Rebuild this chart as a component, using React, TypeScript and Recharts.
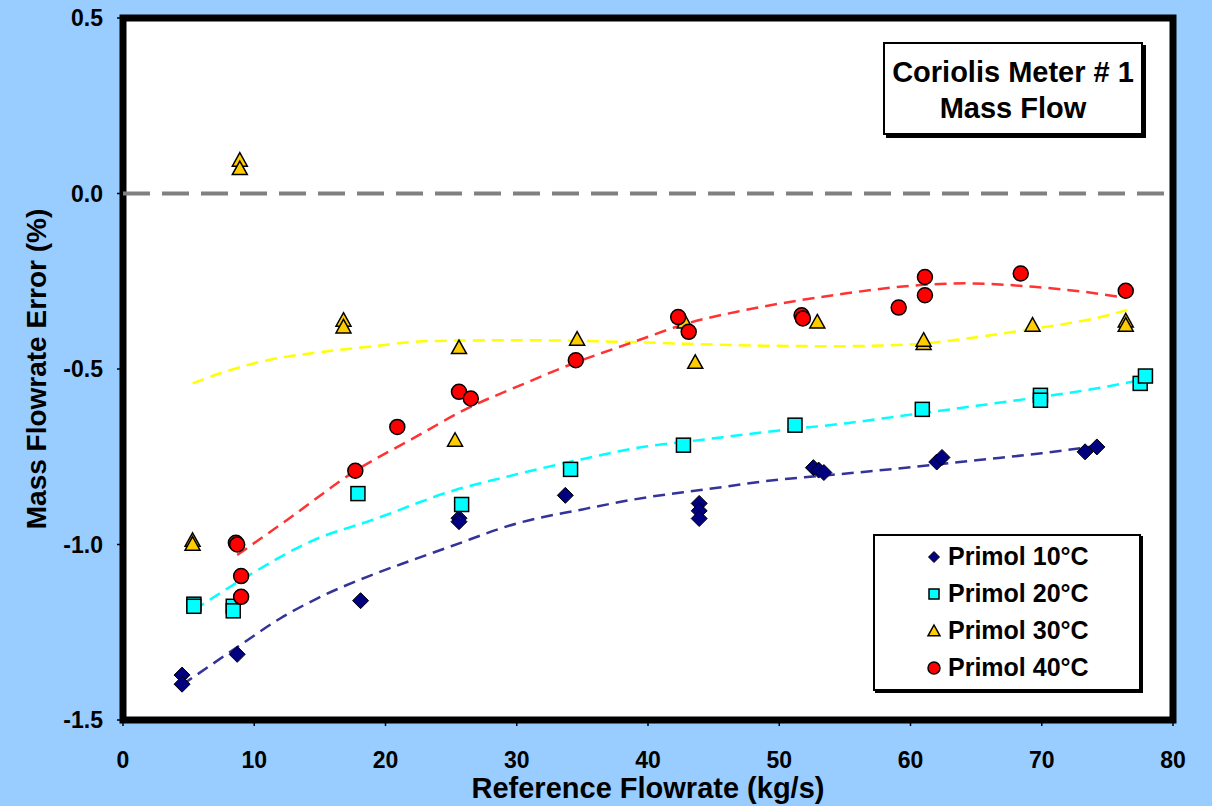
import React from 'react'
import {
  ComposedChart, Line, Scatter, XAxis, YAxis, CartesianGrid,
  ReferenceLine, ReferenceArea, Legend,
} from 'recharts'

// measured points, Primol at four temperatures
const p10X = [4.5, 4.5, 8.7, 18.1, 25.6, 25.6, 33.7, 43.9, 43.9, 43.9, 52.6, 53.0, 53.4, 62.0, 62.4, 73.3, 74.2]
const p10Y = [-1.372, -1.398, -1.313, -1.16, -0.925, -0.935, -0.86, -0.883, -0.904, -0.926, -0.781, -0.788, -0.795, -0.765, -0.752, -0.736, -0.722]

const p20X = [5.4, 5.4, 8.4, 8.4, 17.9, 25.8, 34.1, 42.7, 51.2, 60.9, 69.9, 69.9, 77.5, 77.9]
const p20Y = [-1.17, -1.176, -1.176, -1.189, -0.855, -0.886, -0.786, -0.717, -0.66, -0.615, -0.575, -0.589, -0.541, -0.52]

const p30X = [8.9, 8.9, 5.3, 5.3, 16.8, 16.8, 25.6, 25.3, 34.6, 42.8, 43.6, 52.9, 61.0, 61.0, 69.3, 76.4, 76.4]
const p30Y = [0.095, 0.071, -0.988, -0.999, -0.361, -0.38, -0.439, -0.703, -0.415, -0.366, -0.481, -0.366, -0.427, -0.418, -0.375, -0.363, -0.375]

const p40X = [8.6, 8.7, 9.0, 9.0, 17.7, 20.9, 25.6, 26.5, 34.5, 42.3, 43.1, 51.7, 51.8, 59.1, 61.1, 61.1, 68.4, 76.4]
const p40Y = [-0.995, -1.0, -1.09, -1.149, -0.79, -0.665, -0.565, -0.584, -0.475, -0.352, -0.394, -0.347, -0.356, -0.325, -0.238, -0.29, -0.228, -0.277]

// trend lines
const t10X = [4.5, 8.8, 12, 15, 18.6, 22, 25, 30, 35, 40, 44, 50, 53, 60, 65, 70, 74]
const t10Y = [-1.40, -1.29, -1.21, -1.15, -1.092, -1.045, -1.005, -0.94, -0.90, -0.865, -0.845, -0.815, -0.805, -0.78, -0.76, -0.74, -0.72]

const t20X = [5.4, 9.4, 14.5, 19, 25.2, 30, 34, 40, 42.7, 50, 55, 60, 65, 70, 75, 77.7]
const t20Y = [-1.187, -1.092, -0.988, -0.93, -0.846, -0.80, -0.765, -0.72, -0.708, -0.675, -0.655, -0.63, -0.605, -0.579, -0.55, -0.53]

const t30X = [5.3, 8, 11, 15, 18.6, 23.6, 30, 36.4, 41, 46.5, 54, 60, 64.3, 69.4, 72, 74.5, 76.5]
const t30Y = [-0.541, -0.505, -0.475, -0.452, -0.437, -0.42, -0.418, -0.421, -0.426, -0.432, -0.435, -0.43, -0.413, -0.385, -0.37, -0.352, -0.332]

const t40X = [8.7, 12.5, 17.8, 22, 26.2, 30.3, 34.6, 38.9, 43, 47, 51.6, 55, 60.7, 64.3, 69.4, 73.2, 76.4]
const t40Y = [-1.03, -0.93, -0.788, -0.70, -0.613, -0.546, -0.48, -0.423, -0.37, -0.335, -0.304, -0.285, -0.261, -0.256, -0.266, -0.28, -0.297]

const seriesNames = ['Primol 10°C', 'Primol 20°C', 'Primol 30°C', 'Primol 40°C']
const xTicks = [0, 10, 20, 30, 40, 50, 60, 70, 80]
const yTicks = [-1.5, -1.0, -0.5, 0.0, 0.5]

const FONT = '"Liberation Sans", Arial, Helvetica, sans-serif'

const toPoints = (xs: number[], ys: number[]) => xs.map((x, i) => ({ x, y: ys[i] }))

const diamond = (cx: number, cy: number, r: number) =>
  <path d={`M${cx},${cy - r}L${cx + r},${cy}L${cx},${cy + r}L${cx - r},${cy}Z`} fill="#000080" stroke="#000" strokeWidth={1} />
const square = (cx: number, cy: number, r: number) =>
  <rect x={cx - r} y={cy - r} width={2 * r} height={2 * r} fill="#00FFFF" stroke="#000" strokeWidth={1.5} />
const triangle = (cx: number, cy: number, r: number) =>
  <path d={`M${cx},${cy - r}L${cx + r},${cy + r * 0.8}L${cx - r},${cy + r * 0.8}Z`} fill="#FFCC00" stroke="#000" strokeWidth={1.5} />
const circle = (cx: number, cy: number, r: number) =>
  <circle cx={cx} cy={cy} r={r} fill="#FF0000" stroke="#000" strokeWidth={1.5} />

const markers = [diamond, square, triangle, circle]
const markerSize = [8, 7, 7.5, 7.5]

function MarkerShape(idx: number) {
  return (props: any) => {
    const { cx, cy } = props
    if (cx == null || cy == null) return <g />
    return markers[idx](cx, cy, markerSize[idx])
  }
}

function LegendBox() {
  return (
    <div style={{
      width: 268, height: 157, background: '#fff', border: '2px solid #000',
      boxShadow: '2px 2px 0 #000', fontFamily: FONT, boxSizing: 'border-box',
    }}>
      {seriesNames.map((name, i) => (
        <div key={name} style={{ display: 'flex', alignItems: 'center', height: 37, marginTop: i === 0 ? 2 : 0 }}>
          <svg width={20} height={20} style={{ marginLeft: 49, marginRight: 4 }}>
            {markers[i](10, 10, [5.5, 5, 6, 6][i])}
          </svg>
          <span style={{ fontSize: 25, fontWeight: 'bold', color: '#000' }}>{name}</span>
        </div>
      ))}
    </div>
  )
}

export default function App() {
  const yTitle = (props: any) => (
    <text x={36} y={369} transform="rotate(-90, 36, 369)" textAnchor="middle" dominantBaseline="central"
      style={{ fontFamily: FONT, fontSize: 28, fontWeight: 'bold', fill: '#000' }}>
      Mass Flowrate Error (%)
    </text>
  )
  const xTitle = (props: any) => (
    <text x={648} y={788} textAnchor="middle" dominantBaseline="central"
      style={{ fontFamily: FONT, fontSize: 29, fontWeight: 'bold', fill: '#000' }}>
      Reference Flowrate (kg/s)
    </text>
  )
  const tickStyle = { fontFamily: FONT, fontSize: 23, fontWeight: 'bold', fill: '#000' }

  return (
    <div style={{ position: 'absolute', left: 0, top: 0, width: 1212, height: 806, background: '#99CCFF', overflow: 'hidden' }}>
      <ComposedChart width={1212} height={806} margin={{ top: 18, right: 39, bottom: 0, left: 0 }}>
        <CartesianGrid fill="#fff" horizontal={false} vertical={false} />
        <XAxis
          type="number" dataKey="x" domain={[0, 80]} ticks={xTicks} height={86}
          allowDataOverflow tick={tickStyle} tickSize={6} tickMargin={26}
          axisLine={false} tickLine={{ stroke: '#000', strokeWidth: 1.5 }}
          label={{ content: xTitle }}
        />
        <YAxis
          type="number" domain={[-1.5, 0.5]} ticks={yTicks} width={123}
          allowDataOverflow tick={tickStyle} tickSize={6} tickMargin={14}
          tickFormatter={(v: number) => v.toFixed(1)}
          axisLine={false} tickLine={{ stroke: '#000', strokeWidth: 1.5 }}
          label={{ content: yTitle }}
        />
        <ReferenceLine y={0} stroke="#808080" strokeWidth={4} strokeDasharray="27 12" />
        <Line data={toPoints(t10X, t10Y)} dataKey="y" type="monotone" stroke="#333399" strokeWidth={2.5} strokeDasharray="12 7" dot={false} isAnimationActive={false} legendType="none" />
        <Line data={toPoints(t20X, t20Y)} dataKey="y" type="monotone" stroke="#00FFFF" strokeWidth={2.5} strokeDasharray="12 7" dot={false} isAnimationActive={false} legendType="none" />
        <Line data={toPoints(t30X, t30Y)} dataKey="y" type="monotone" stroke="#FFFF00" strokeWidth={2.5} strokeDasharray="12 7" dot={false} isAnimationActive={false} legendType="none" />
        <Line data={toPoints(t40X, t40Y)} dataKey="y" type="monotone" stroke="#FF3333" strokeWidth={2.5} strokeDasharray="12 7" dot={false} isAnimationActive={false} legendType="none" />
        <Scatter name={seriesNames[0]} data={toPoints(p10X, p10Y)} dataKey="y" shape={MarkerShape(0)} isAnimationActive={false} />
        <Scatter name={seriesNames[1]} data={toPoints(p20X, p20Y)} dataKey="y" shape={MarkerShape(1)} isAnimationActive={false} />
        <Scatter name={seriesNames[2]} data={toPoints(p30X, p30Y)} dataKey="y" shape={MarkerShape(2)} isAnimationActive={false} />
        <Scatter name={seriesNames[3]} data={toPoints(p40X, p40Y)} dataKey="y" shape={MarkerShape(3)} isAnimationActive={false} />
        <ReferenceArea x1={0} x2={80} y1={-1.5} y2={0.5} fill="none" stroke="#000" strokeWidth={7} ifOverflow="visible" />
        <Legend
          layout="horizontal" verticalAlign="middle" align="center"
          wrapperStyle={{ position: 'absolute', left: 873, top: 534, width: 270, height: 159 }}
          content={() => <LegendBox />}
        />
      </ComposedChart>
      <div style={{
        position: 'absolute', left: 883, top: 42, width: 260, height: 93,
        background: '#fff', border: '2px solid #000', boxShadow: '3px 3px 0 #000',
        fontFamily: FONT, fontSize: 29, fontWeight: 'bold', color: '#000',
        textAlign: 'center', lineHeight: '36px', paddingTop: 10, boxSizing: 'border-box',
      }}>
        <div>Coriolis Meter # 1</div>
        <div>Mass Flow</div>
      </div>
    </div>
  )
}
